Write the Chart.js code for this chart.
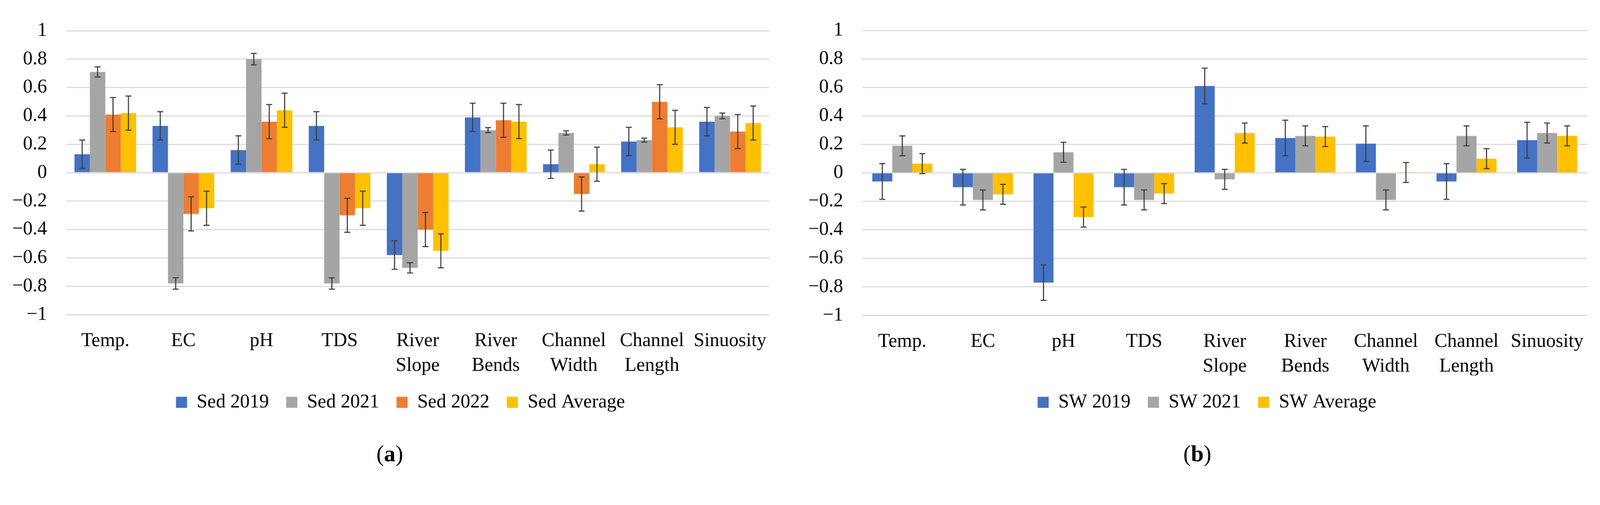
<!DOCTYPE html>
<html>
<head>
<meta charset="utf-8">
<script src="https://cdn.jsdelivr.net/npm/chart.js@4/dist/chart.umd.min.js"></script>
<style>
  html, body { margin: 0; padding: 0; background: #ffffff; overflow: hidden; }
  #page { width: 4323px; height: 1294px; position: absolute; left: 0; top: 0; overflow: hidden; transform-origin: 0 0; background: #ffffff; }
  .box { position: absolute; top: 0; }
  .cap { position: absolute; width: 400px; text-align: center; font-size: 62px; line-height: 62px; color: #000; font-family: 'Liberation Serif', 'Times New Roman', serif; }
</style>
</head>
<body>
<div id="page">
  <div class="box" style="left:0px;width:2164px;height:1124px;"><canvas id="chartA" width="2164" height="1124" style="width:2164px;height:1124px;"></canvas></div>
  <div class="box" style="left:2150px;width:2222px;height:1124px;"><canvas id="chartB" width="2222" height="1124" style="width:2222px;height:1124px;"></canvas></div>
  <div class="cap" style="left:853px;top:1195px;">(<b>a</b>)</div>
  <div class="cap" style="left:3035px;top:1195px;">(<b>b</b>)</div>
</div>
<script>
// fit the 4323x1294 design into whatever CSS viewport the browser reports
(function () {
  const k = Math.min(window.innerWidth / 4323, window.innerHeight / 1294);
  if (isFinite(k) && k > 0) document.getElementById('page').style.transform = 'scale(' + k + ')';
})();

// ---- categories and tick labels ----
const categories = ['Temp.', 'EC', 'pH', 'TDS', ['River', 'Slope'], ['River', 'Bends'], ['Channel', 'Width'], ['Channel', 'Length'], 'Sinuosity'];
const yTickLabels = ['\u22121', '\u22120.8', '\u22120.6', '\u22120.4', '\u22120.2', '0', '0.2', '0.4', '0.6', '0.8', '1'];

// ---- panel (a): sediment ----
const sed2019 = [0.13, 0.33, 0.16, 0.33, -0.58, 0.39, 0.06, 0.22, 0.36];
const sed2019Err = [0.10, 0.10, 0.10, 0.10, 0.10, 0.10, 0.10, 0.10, 0.10];
const sed2021 = [0.71, -0.78, 0.80, -0.78, -0.67, 0.30, 0.28, 0.23, 0.40];
const sed2021Err = [0.036, 0.04, 0.04, 0.04, 0.036, 0.018, 0.015, 0.014, 0.02];
const sed2022 = [0.41, -0.29, 0.36, -0.30, -0.40, 0.37, -0.15, 0.50, 0.29];
const sed2022Err = [0.12, 0.12, 0.12, 0.12, 0.12, 0.12, 0.12, 0.12, 0.12];
const sedAvg = [0.42, -0.25, 0.44, -0.25, -0.55, 0.36, 0.06, 0.32, 0.35];
const sedAvgErr = [0.12, 0.12, 0.12, 0.12, 0.12, 0.12, 0.12, 0.12, 0.12];

// ---- panel (b): surface water ----
const sw2019 = [-0.06, -0.10, -0.77, -0.10, 0.61, 0.245, 0.205, -0.06, 0.23];
const sw2019Err = [0.125, 0.125, 0.125, 0.125, 0.125, 0.125, 0.125, 0.125, 0.125];
const sw2021 = [0.19, -0.19, 0.145, -0.19, -0.045, 0.26, -0.19, 0.26, 0.28];
const sw2021Err = [0.07, 0.07, 0.07, 0.07, 0.07, 0.07, 0.07, 0.07, 0.07];
const swAvg = [0.065, -0.15, -0.31, -0.145, 0.28, 0.255, 0.003, 0.10, 0.26];
const swAvgErr = [0.07, 0.07, 0.07, 0.07, 0.07, 0.07, 0.07, 0.07, 0.07];

const COLORS = { blue: '#4472C4', gray: '#A5A5A5', orange: '#ED7D31', yellow: '#FFC000' };
const FONT = "'Liberation Serif', 'Times New Roman', serif";

const errorBarPlugin = {
  id: 'errorBars',
  afterDatasetsDraw(chart) {
    const ctx = chart.ctx;
    const yScale = chart.scales.y;
    const cap = 8;
    chart.data.datasets.forEach((ds, i) => {
      const meta = chart.getDatasetMeta(i);
      if (meta.hidden || !ds.errors) return;
      meta.data.forEach((bar, j) => {
        const v = ds.data[j];
        const e = ds.errors[j];
        const yTop = yScale.getPixelForValue(v + e);
        const yBot = yScale.getPixelForValue(v - e);
        const x = bar.x;
        ctx.save();
        ctx.strokeStyle = '#404040';
        ctx.lineWidth = 3;
        ctx.beginPath();
        ctx.moveTo(x, yTop); ctx.lineTo(x, yBot);
        ctx.moveTo(x - cap, yTop); ctx.lineTo(x + cap, yTop);
        ctx.moveTo(x - cap, yBot); ctx.lineTo(x + cap, yBot);
        ctx.stroke();
        ctx.restore();
      });
    });
  }
};

function makeChart(id, datasets, opt) {
  return new Chart(document.getElementById(id), {
    type: 'bar',
    data: { labels: categories, datasets: datasets },
    plugins: [errorBarPlugin],
    options: {
      responsive: false,
      animation: false,
      datasets: { bar: { categoryPercentage: opt.catPct, barPercentage: 1.0, borderWidth: 0 } },
      layout: { padding: { left: 0, right: 0, top: opt.padT, bottom: 0 } },
      plugins: {
        tooltip: { enabled: false },
        legend: {
          position: 'bottom',
          align: 'center',
          labels: {
            boxWidth: 30, boxHeight: 30, padding: 47, color: '#000000',
            font: { family: FONT, size: 52 }
          }
        }
      },
      scales: {
        x: {
          grid: { display: false, drawTicks: false },
          border: { display: false },
          ticks: {
            autoSkip: false, maxRotation: 0, minRotation: 0, padding: 38, color: '#000000',
            font: { family: FONT, size: 52, lineHeight: 1.288 }
          },
          afterFit: (s) => { s.height = opt.xH; }
        },
        y: {
          min: -1, max: 1,
          grid: { color: '#D9D9D9', lineWidth: 3, drawTicks: false },
          border: { display: false },
          ticks: {
            stepSize: 0.2, padding: opt.tickPad, color: '#000000',
            font: { family: FONT, size: 52 },
            callback: (value, index) => yTickLabels[index]
          },
          afterFit: (s) => { s.width = opt.yW; }
        },
        // empty spacer on the right so the legend centres where the original does
        spacer: {
          type: 'linear', position: 'right', display: true,
          grid: { display: false, drawTicks: false },
          border: { display: false },
          ticks: { display: false },
          afterFit: (s) => { s.width = opt.rightW; }
        }
      }
    }
  });
}

makeChart('chartA', [
  { label: 'Sed 2019', data: sed2019, errors: sed2019Err, backgroundColor: COLORS.blue },
  { label: 'Sed 2021', data: sed2021, errors: sed2021Err, backgroundColor: COLORS.gray },
  { label: 'Sed 2022', data: sed2022, errors: sed2022Err, backgroundColor: COLORS.orange },
  { label: 'Sed Average', data: sedAvg, errors: sedAvgErr, backgroundColor: COLORS.yellow }
], { catPct: 0.79, padT: 78.5, yW: 179, rightW: 86, xH: 164, tickPad: 52 });

makeChart('chartB', [
  { label: 'SW 2019', data: sw2019, errors: sw2019Err, backgroundColor: COLORS.blue },
  { label: 'SW 2021', data: sw2021, errors: sw2021Err, backgroundColor: COLORS.gray },
  { label: 'SW Average', data: swAvg, errors: swAvgErr, backgroundColor: COLORS.yellow }
], { catPct: 0.745, padT: 73.5, yW: 179, rightW: 83, xH: 162, tickPad: 51 });
</script>
</body>
</html>
